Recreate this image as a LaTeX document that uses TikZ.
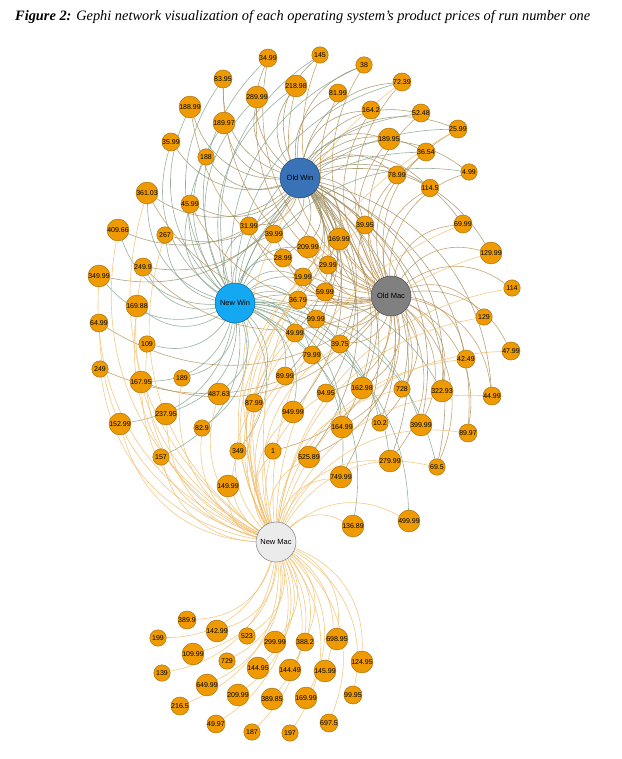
\documentclass[tikz,border=0pt]{standalone}
\usepackage{fontspec}
\usepackage{graphicx}
\setmainfont{Liberation Serif}
\newfontfamily\labfont{Liberation Sans}
\pgfdeclarelayer{background}
\pgfsetlayers{background,main}
\definecolor{porange}{HTML}{EE9A00}
\definecolor{pborder}{HTML}{9A6A10}
\definecolor{cow}{HTML}{3A72B8}
\definecolor{cnw}{HTML}{14A8F2}
\definecolor{com}{HTML}{808080}
\definecolor{cnm}{HTML}{EBEBEB}
\definecolor{eowc}{HTML}{9A8A5C}
\definecolor{enwc}{HTML}{7E9E86}
\definecolor{eomc}{HTML}{B88E4E}
\definecolor{enmc}{HTML}{F0C070}
\tikzset{
  pn/.style={circle, fill=porange, draw=pborder, line width=0.4pt, minimum size=16.5pt, inner sep=0pt, font=\labfont\fontsize{7}{7}\selectfont, text=black},
  hub/.style={circle, minimum size=40pt, inner sep=0pt, line width=0.5pt, font=\labfont\fontsize{7.5}{8}\selectfont, text=black},
  eow/.style={draw=eowc, line width=0.6pt, opacity=0.8},
  enw/.style={draw=enwc, line width=0.6pt, opacity=0.8},
  eom/.style={draw=eomc, line width=0.6pt, opacity=0.8},
  enm/.style={draw=enmc, line width=0.6pt, opacity=0.85},
  arc/.style={bend right=36},
}
\begin{document}
\begin{tikzpicture}[x=1pt,y=-1pt]
\useasboundingbox (0,0) rectangle (621,759);
\node[anchor=west, inner sep=0pt] (title) at (15,17) {\resizebox{575pt}{!}{\itshape\textbf{Figure 2:} Gephi network visualization of each operating system’s product prices of run number one}};
% hubs
\node[hub, fill=cow, draw=cow!60!black] (OW) at (300,178) {Old Win};
\node[hub, fill=cnw, draw=cnw!60!black] (NW) at (235,303) {New Win};
\node[hub, fill=com, draw=com!60!black] (OM) at (391,296) {Old Mac};
\node[hub, fill=cnm, draw=gray] (NM) at (276,542) {New Mac};
% price nodes
\foreach \id/\lab/\x/\y in {
1/145/320/55, 2/34.99/268/58, 3/38/364/65, 4/83.95/223/79, 5/72.39/402/82,
6/218.98/296/86, 7/81.99/338/93, 8/289.99/257/97, 9/188.99/190/107, 10/164.2/371/110,
11/52.48/421/113, 12/189.97/224/123, 13/25.99/458/129, 14/189.95/389/139, 15/35.99/171/142,
16/36.54/426/152, 17/188/206/157, 18/4.99/469/172, 19/78.99/397/175, 20/114.5/430/188,
21/361.03/147/193, 22/45.99/190/204, 23/69.99/463/224, 24/39.95/365/225, 25/31.99/249/226,
26/409.66/118/230, 27/39.99/274/234, 28/267/165/235, 29/169.99/339/239, 30/209.99/308/247,
31/129.99/491/253, 32/28.99/283/258, 33/29.99/328/265, 34/249.9/143/267, 35/349.99/99/276,
36/19.99/303/277, 37/114/512/288, 38/59.99/325/292, 39/36.79/298/300, 40/169.88/137/306,
41/129/484/317, 42/99.99/316/319, 43/64.99/99/323, 44/49.99/295/333, 45/109/147/344,
46/39.75/340/344, 47/47.99/511/351, 48/79.99/312/355, 49/42.49/466/359, 50/249/100/369,
51/89.99/285/376, 52/189/182/378, 53/167.95/141/382, 54/162.98/362/388, 55/728/402/389,
56/322.93/442/391, 57/94.95/326/393, 58/487.63/219/394, 59/44.99/492/396, 60/87.99/254/403,
61/949.99/293/412, 62/237.95/166/414, 63/152.99/120/424, 64/399.99/421/425, 65/10.2/380/423,
66/164.99/342/427, 67/82.9/202/428, 68/89.97/468/433, 69/349/238/451, 70/1/273/451,
71/157/161/457, 72/525.89/309/457, 73/279.99/390/461, 74/69.5/437/467, 75/749.99/341/477,
76/149.99/228/486, 77/499.99/409/521, 78/136.89/353/526,
79/389.9/187/620, 80/142.99/217/631, 81/523/247/636, 82/199/158/638, 83/698.95/337/639,
84/299.99/275/642, 85/388.2/305/642, 86/109.99/193/654, 87/729/227/661, 88/124.95/362/662,
89/144.95/258/668, 90/144.49/290/670, 91/145.99/325/671, 92/139/162/673, 93/649.99/207/685,
94/209.99/238/695, 95/99.95/353/695, 96/169.99/306/698, 97/389.85/272/699, 98/216.5/180/706,
99/697.5/329/723, 100/49.97/216/724, 101/187/252/732, 102/197/290/733}
  \node[pn] (p\id) at (\x,\y) {\lab};
\begin{pgfonlayer}{background}
% Old Win edges
\foreach \i in {1,2,3,4,5,6,7,8,9,10,11,12,13,14,15,16,17,18,19,20,21,22,23,24,25,26,27,28,29,30,31,32,33,34,35,36,38,39,42,44,46,48,51,54,55,56,57,59,61,64,65,66,68,72,73,74,75}
  \draw[eow] (p\i) to[arc] (OW);
% New Win edges
\foreach \i in {1,2,3,4,5,6,8,9,11,12,13,15,16,17,18,21,22,25,26,27,28,30,32,34,35,36,38,39,40,42,44,45,48,51,52,53,54,56,58,60,61,62,63,64,65,66,67,69,71,73,74,75,77,78}
  \draw[enw] (p\i) to[arc] (NW);
% Old Mac edges
\foreach \i in {1,2,3,4,5,6,7,8,9,10,11,13,14,16,18,19,20,21,22,23,24,25,27,29,30,31,32,33,34,36,37,38,41,42,43,46,47,49,50,53,54,55,56,57,59,64,65,66,68,70,72,73,74}
  \draw[eom] (p\i) to[arc] (OM);
% New Mac edges
\foreach \i in {5,13,21,23,24,26,28,29,31,33,34,35,36,37,38,39,40,41,42,43,44,45,46,47,48,49,50,51,52,53,55,57,58,59,60,61,62,63,67,68,69,70,71,72,73,74,75,76,77,78,79,80,81,82,83,84,85,86,87,88,89,90,91,92,93,94,95,96,97,98,99,100,101,102}
  \draw[enm] (p\i) to[arc] (NM);
\end{pgfonlayer}
\end{tikzpicture}
\end{document}
